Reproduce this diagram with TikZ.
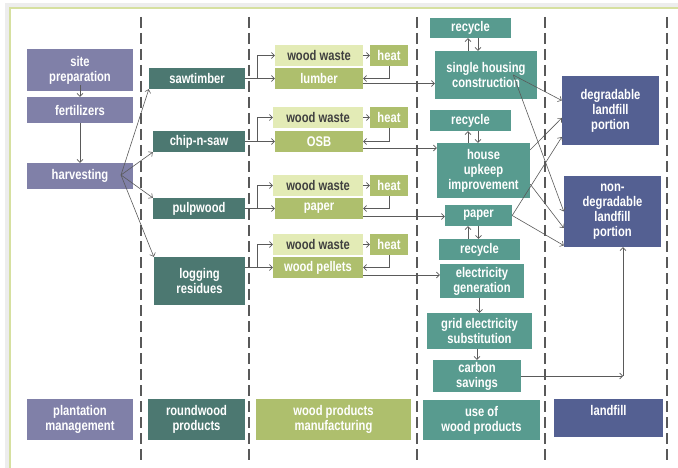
\documentclass[tikz,border=0pt]{standalone}
\usepackage{fontspec}
\setmainfont{Liberation Sans}[FakeStretch=0.8]
\usetikzlibrary{arrows.meta, calc, positioning}
\definecolor{plantC}{RGB}{128,128,168}
\definecolor{roundC}{RGB}{76,120,113}
\definecolor{manufC}{RGB}{174,191,109}
\definecolor{wasteC}{RGB}{227,235,182}
\definecolor{useC}{RGB}{88,155,143}
\definecolor{landC}{RGB}{84,96,146}
\definecolor{frameC}{RGB}{214,224,160}
\definecolor{lineC}{RGB}{90,90,90}

\begin{document}
\begin{tikzpicture}[x=1pt, y=-1pt,
    box/.style={rectangle, inner sep=1pt, align=center, text=white,
      font=\fontsize{14}{15}\selectfont\bfseries},
    sz/.style 2 args={minimum width=#1pt, minimum height=#2pt},
    plant/.style={box, fill=plantC},
    round/.style={box, fill=roundC},
    manuf/.style={box, fill=manufC},
    waste/.style={box, fill=wasteC, text=black!75},
    use/.style={box, fill=useC},
    land/.style={box, fill=landC},
    arrow/.style={-{Straight Barb[length=3pt,width=6pt]}, line width=0.6pt, lineC},
    divider/.style={dash pattern=on 11pt off 5pt, line width=1.3pt, black!65},
  ]
    \useasboundingbox (0,0) rectangle (678,468);
    % frame
    \draw[black!7, line width=4pt] (7,480) |- (690,5);
    \draw[frameC, line width=1.2pt] (10,480) |- (690,8);

    % column dividers
    \foreach \x in {141,249,417,545,667}
      \draw[divider] (\x,17) -- (\x,462);

    % plantation management
    \node[plant, sz={106}{42}] (site) at (80,70) {site\\preparation};
    \node[plant, sz={106}{26}] (fert) at (80,110) {fertilizers};
    \node[plant, sz={106}{26}] (harv) at (80,176) {harvesting};
    \node[plant, sz={106}{41}] (plantlbl) at (80,419.5) {plantation\\management};

    % roundwood products
    \node[round, sz={96}{21}] (saw) at (197,78.5) {sawtimber};
    \node[round, sz={92}{21}] (chip) at (199,141.5) {chip-n-saw};
    \node[round, sz={92}{21}] (pulp) at (199,208.5) {pulpwood};
    \node[round, sz={91}{48}] (log) at (199.5,281) {logging\\residues};
    \node[round, sz={97}{41}] (roundlbl) at (196.5,419.5) {roundwood\\products};

    % wood products manufacturing
    \node[waste, sz={88}{21}] (ww1) at (319,55.5) {wood waste};
    \node[manuf, sz={38}{21}] (heat1) at (389,55.5) {heat};
    \node[manuf, sz={88}{21}] (lumber) at (319,78.5) {lumber};
    \node[waste, sz={90}{21}] (ww2) at (318,117.5) {wood waste};
    \node[manuf, sz={38}{21}] (heat2) at (389,117.5) {heat};
    \node[manuf, sz={88}{21}] (osb) at (319,141.5) {OSB};
    \node[waste, sz={90}{21}] (ww3) at (318,185.5) {wood waste};
    \node[manuf, sz={38}{21}] (heat3) at (389,185.5) {heat};
    \node[manuf, sz={88}{21}] (paperm) at (319,208.5) {paper};
    \node[waste, sz={90}{21}] (ww4) at (318,244.5) {wood waste};
    \node[manuf, sz={38}{21}] (heat4) at (389,244.5) {heat};
    \node[manuf, sz={90}{21}] (pellets) at (318,267.5) {wood pellets};
    \node[manuf, sz={155}{41}] (manuflbl) at (333.5,419.5) {wood products\\manufacturing};

    % use of wood products
    \node[use, sz={81}{20}] (rec1) at (470.5,28) {recycle};
    \node[use, sz={102}{48}] (shc) at (486,75) {single housing\\construction};
    \node[use, sz={81}{21}] (rec2) at (470.5,120.5) {recycle};
    \node[use, sz={93}{55}] (upkeep) at (483.5,170.5) {house\\upkeep\\improvement};
    \node[use, sz={67}{21}] (paperu) at (478.5,215.5) {paper};
    \node[use, sz={81}{21}] (rec3) at (479.5,249.5) {recycle};
    \node[use, sz={84}{34}] (elec) at (482,281) {electricity\\generation};
    \node[use, sz={105}{36}] (grid) at (479.5,331) {grid electricity\\substitution};
    \node[use, sz={88}{32}] (carbon) at (477,376) {carbon\\savings};
    \node[use, sz={117}{40}] (uselbl) at (481.5,420) {use of\\wood products};

    % landfill
    \node[land, sz={97}{69}] (deg) at (610.5,110.5) {degradable\\landfill\\portion};
    \node[land, sz={97}{71}] (ndeg) at (612.5,211.5) {non-\\degradable\\landfill\\portion};
    \node[land, sz={109}{38}] (landlbl) at (608.5,418) {landfill\\\mbox{}};

    % plantation flow
    \draw[arrow] ([yshift=6pt]site.south) -- (fert.north);
    \draw[arrow] (fert.south) -- (harv.north);
    \coordinate (hv) at (121,175);
    \draw[arrow] (hv) -- (saw.south west);
    \draw[arrow] (hv) -- (chip.south west);
    \draw[arrow] (hv) -- (pulp.north west);
    \draw[arrow] (hv) -- (log.north west);

    % roundwood to manufacturing
    \foreach \r/\w/\h/\p in {saw/ww1/heat1/lumber, chip/ww2/heat2/osb,
        pulp/ww3/heat3/paperm, log/ww4/heat4/pellets} {
      \draw[arrow] (\p.west -| \r.east) -- (\p.west);
      \draw[arrow] ([xshift=12pt]\p.west -| \r.east) |- (\w.west);
      \draw[arrow] (\w.east) -- (\h.west);
      \draw[arrow] (\h.south) |- (\p.east);
    }

    % manufacturing to use
    \draw[arrow] ([yshift=-5pt]lumber.east) -- ([yshift=-5pt]lumber.east -| shc.west);
    \draw[arrow] ([yshift=-6.5pt]osb.east) -- ([yshift=-6.5pt]osb.east -| upkeep.west);
    \draw[arrow] ([yshift=-8pt]paperm.east) -- ([yshift=-8pt]paperm.east -| paperu.west);
    \draw[arrow] ([yshift=-7.5pt]pellets.east) -- ([yshift=-7.5pt]pellets.east -| elec.west);

    % recycling loops
    \draw[arrow] ([xshift=-2.5pt]rec1.south |- shc.north) -- ([xshift=-2.5pt]rec1.south);
    \draw[arrow] ([xshift=7.5pt]rec1.south) -- ([xshift=7.5pt]rec1.south |- shc.north);
    \draw[arrow] ([xshift=-2.5pt]rec2.south |- upkeep.north) -- ([xshift=-2.5pt]rec2.south);
    \draw[arrow] ([xshift=7.5pt]rec2.south) -- ([xshift=7.5pt]rec2.south |- upkeep.north);
    \draw[arrow] ([xshift=-10.5pt]paperu.south |- rec3.north) -- ([xshift=-10.5pt]paperu.south);
    \draw[arrow] (paperu.south) -- (paperu.south |- rec3.north);
    \draw[arrow] (grid.north |- elec.south) -- (grid.north);
    \draw[arrow] (carbon.north |- grid.south) -- (carbon.north);

    % carbon savings
    \coordinate (cs) at (623,376);
    \draw[arrow] (carbon.east) -- (cs);
    \draw[arrow] (cs) -- (cs |- ndeg.south);

    % to landfill
    \draw[arrow] ([xshift=-24pt]shc.east) -- ([yshift=10pt]deg.west);
    \draw[arrow] ([xshift=-24pt]shc.east) -- (ndeg.west);
    \draw[arrow] ([yshift=-7pt]upkeep.north east) -- ([yshift=-7.5pt]deg.west);
    \draw[arrow] ([yshift=14pt]upkeep.south east) -- ([yshift=-16.5pt]ndeg.west);
    \draw[arrow] (paperu.east) -- ([yshift=-26.5pt]deg.west);
    \draw[arrow] (paperu.east) -- ([yshift=-34pt]ndeg.west);
  \end{tikzpicture}
\end{document}
